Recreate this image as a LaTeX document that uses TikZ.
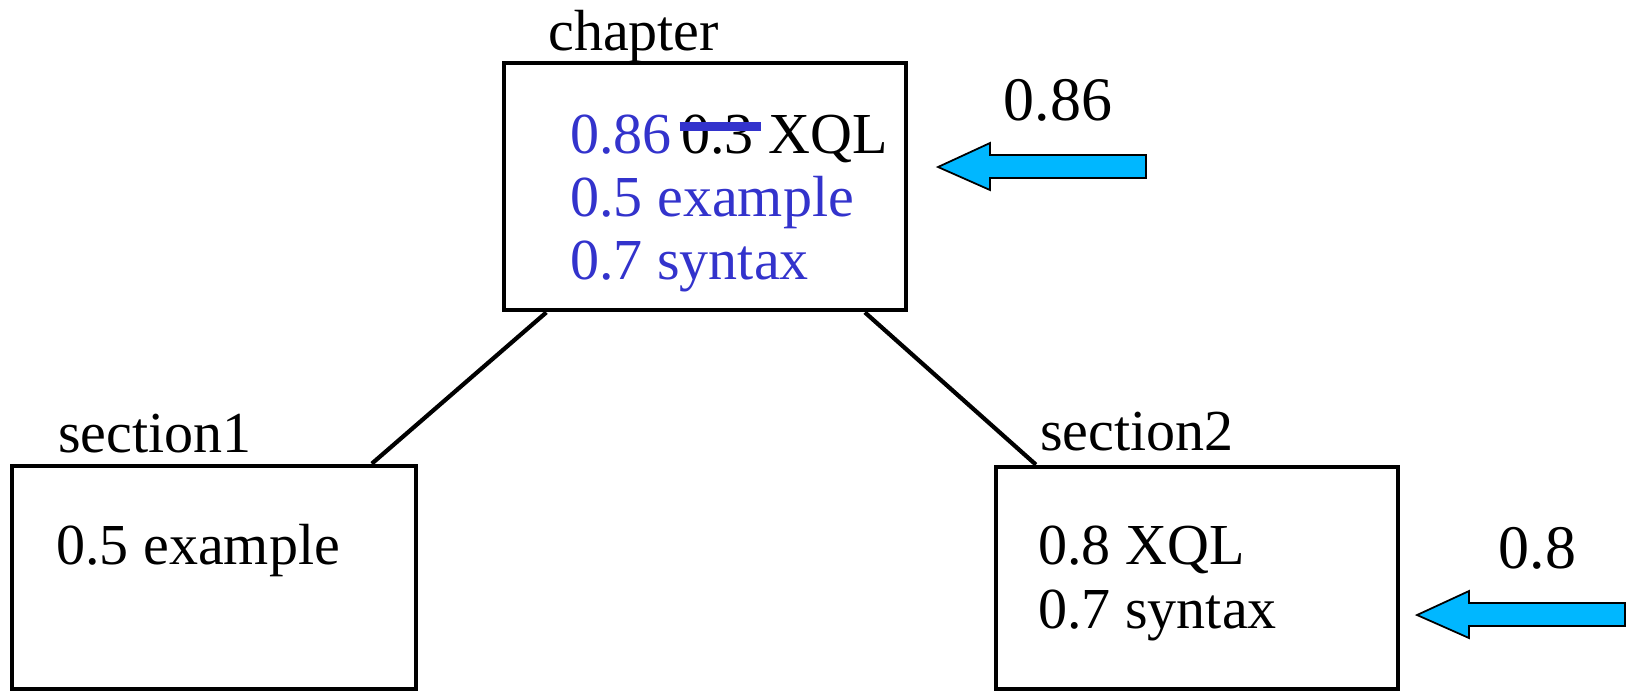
\documentclass[tikz,border=0pt]{standalone}
\usepackage{fontspec}
\setmainfont{Liberation Serif}
\usepackage{xcolor}
\usepackage{tikz}
\usetikzlibrary{calc}
\definecolor{newblue}{RGB}{51,51,204}
\definecolor{arrowcyan}{RGB}{0,183,255}
\newcommand{\treefont}{\fontsize{16.5}{19.8}\selectfont}
\newcommand{\scorefont}{\fontsize{17.6}{21}\selectfont}

\begin{document}
\begin{tikzpicture}[x=0.01cm, y=-0.01cm,
  box/.style={draw, line width=1.3pt, inner sep=0pt},
  txt/.style={anchor=base west, inner sep=0pt, font=\treefont},
  score/.style={anchor=base west, inner sep=0pt, font=\scorefont},
  edge/.style={line width=1.2pt},
  inarrow/.style={draw, line width=0.5pt, fill=arrowcyan, line join=miter}
]
\useasboundingbox (0,0) rectangle (1637,690);

\node[box, minimum width=4.02cm, minimum height=2.47cm] (chapter) at (705,186.5) {};
\node[box, minimum width=4.04cm, minimum height=2.23cm] (sec1) at (214,577.5) {};
\node[box, minimum width=4.02cm, minimum height=2.22cm] (sec2) at (1197,578) {};

% element names
\node[txt] (chapterlbl) at ($(chapter.north west)+(46,-10)$) {chapter};
\node[txt] (sec1lbl) at ($(sec1.north west)+(48,-11)$) {section1};
\node[txt] (sec2lbl) at ($(sec2.north west)+(46,-14)$) {section2};

% chapter: updated scores
\node[txt, text=newblue] (chnew) at ($(chapter.north west)+(68,93)$) {0.86};
\node[txt] (chold) at ($(chapter.north west)+(179,93)$) {0.3};
\node[txt] (chxql) at ($(chapter.north west)+(266,93)$) {XQL};
\node[txt, text=newblue] (chex) at ($(chapter.north west)+(68,156)$) {0.5 example};
\node[txt, text=newblue] (chsyn) at ($(chapter.north west)+(68,219)$) {0.7 syntax};
\draw[newblue, line width=2.4pt] ([xshift=-0.01cm, yshift=0.27cm]chold.base west) -- ([xshift=0.065cm, yshift=0.27cm]chold.base east);

% sections
\node[txt] (s1ex) at ($(sec1.north west)+(46,101)$) {0.5 example};
\node[txt] (s2xql) at ($(sec2.north west)+(44,100)$) {0.8 XQL};
\node[txt] (s2syn) at ($(sec2.north west)+(44,164)$) {0.7 syntax};

% tree edges
\draw[edge] ($(chapter.south west)!0.11!(chapter.south east)$) -- ($(sec1.north west)!0.886!(sec1.north east)$);
\draw[edge] ($(chapter.south west)!0.893!(chapter.south east)$) -- ($(sec2.north west)!0.104!(sec2.north east)$);

% propagated scores
\coordinate (in1) at (938,167);
\coordinate (in2) at (1417,615);
\foreach \tip in {in1,in2}
  \draw[inarrow] (\tip) -- ++(52,-24) -- ++(0,12) -- ++(156,0) -- ++(0,23) -- ++(-156,0) -- ++(0,12) -- cycle;
\node[score] (in1lbl) at (1003,120) {0.86};
\node[score] (in2lbl) at (1498,568) {0.8};
\end{tikzpicture}
\end{document}
